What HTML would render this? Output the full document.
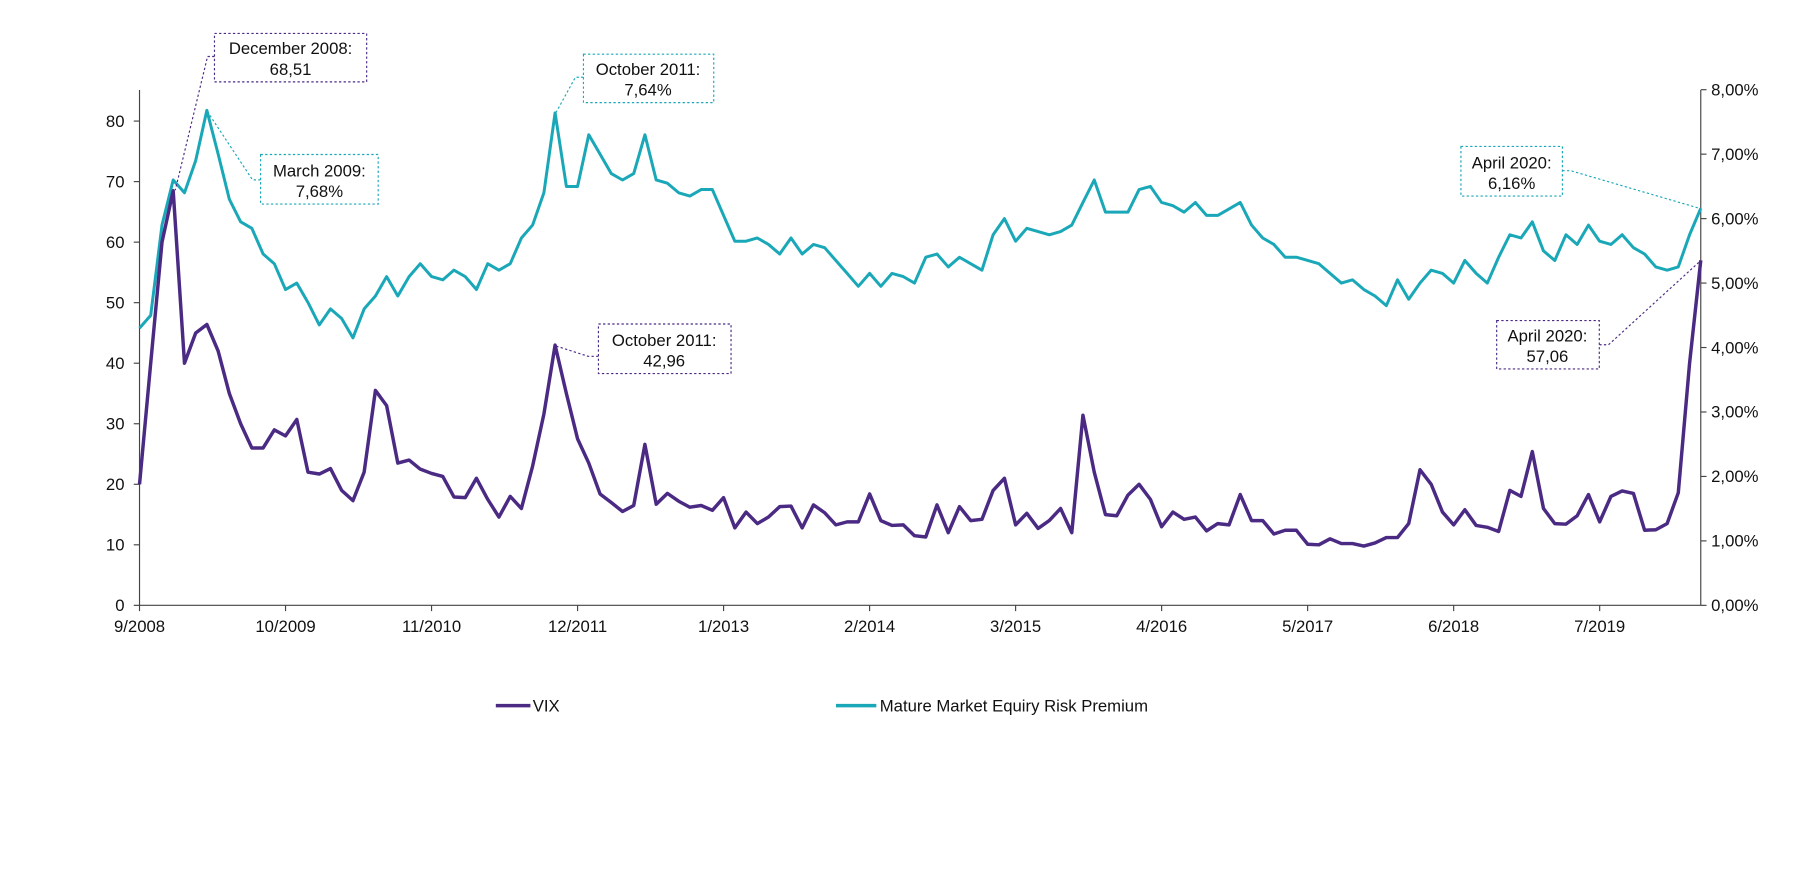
<!DOCTYPE html>
<html><head><meta charset="utf-8"><style>
html,body{margin:0;padding:0;background:#fff;}
svg{display:block;}
text{font-family:"Liberation Sans",Arial,sans-serif;fill:#111;}
</style></head><body>
<svg id="s" width="1808" height="889" viewBox="0 0 1568 771" preserveAspectRatio="none" xmlns="http://www.w3.org/2000/svg">
<g stroke="#444" stroke-width="1" fill="none">
<line x1="121" y1="78" x2="121" y2="525"/>
<line x1="1475" y1="78" x2="1475" y2="525"/>
<line x1="121" y1="525" x2="1475" y2="525"/>
</g>
<g id="ticks" stroke="#444" stroke-width="1"></g>
<g id="labels" font-size="14.5"></g>
<polyline id="erp" fill="none" stroke="#1aa8b8" stroke-width="2.6" stroke-linejoin="round"/>
<polyline id="vix" fill="none" stroke="#4b2a84" stroke-width="3" stroke-linejoin="round"/>
<g fill="none" stroke-width="1" stroke-dasharray="2,2">
<polyline points="186,49 180,49 152,165" stroke="#4b2a84"/>
<polyline points="226,156 219,156 180,97" stroke="#1aa8b8"/>
<polyline points="506,67 499,67 482,98" stroke="#1aa8b8"/>
<polyline points="519,309 510,309 482,300" stroke="#4b2a84"/>
<polyline points="1355,148 1362,148 1475,181" stroke="#1aa8b8"/>
<polyline points="1387,299 1395,299 1475,226" stroke="#4b2a84"/>
<rect x="186" y="29" width="132" height="42" fill="#fff" stroke="#4b2a84"/>
<rect x="226" y="134" width="102" height="43" fill="#fff" stroke="#1aa8b8"/>
<rect x="506" y="47" width="113" height="42" fill="#fff" stroke="#1aa8b8"/>
<rect x="519" y="281" width="115" height="43" fill="#fff" stroke="#4b2a84"/>
<rect x="1267" y="127" width="88" height="43" fill="#fff" stroke="#1aa8b8"/>
<rect x="1298" y="278" width="89" height="42" fill="#fff" stroke="#4b2a84"/>
</g>
<g font-size="14.5" text-anchor="middle">
<text x="252" y="47">December 2008:</text><text x="252" y="65">68,51</text>
<text x="277" y="153">March 2009:</text><text x="277" y="171">7,68%</text>
<text x="562" y="65">October 2011:</text><text x="562" y="83">7,64%</text>
<text x="576" y="300">October 2011:</text><text x="576" y="318">42,96</text>
<text x="1311" y="146">April 2020:</text><text x="1311" y="164">6,16%</text>
<text x="1342" y="296">April 2020:</text><text x="1342" y="314">57,06</text>
</g>
<line x1="430" y1="612" x2="460" y2="612" stroke="#4b2a84" stroke-width="3"/>
<text x="462" y="617" font-size="14.5">VIX</text>
<line x1="725" y1="612" x2="760" y2="612" stroke="#1aa8b8" stroke-width="3"/>
<text x="763" y="617" font-size="14.5">Mature Market Equiry Risk Premium</text>
</svg>
<script>
var vix=[20,40,60,68.5,
40,45,46.4,42,35,30,26,26,29,28,30.7,22,
21.7,22.6,19,17.3,22,35.5,33,23.5,24,22.5,21.8,21.3,
17.9,17.8,21,17.5,14.6,18,16,23,31.6,43,35,27.5,
23.5,18.4,17,15.5,16.5,26.6,16.7,18.5,17.2,16.2,16.5,15.7,
17.8,12.8,15.4,13.5,14.6,16.3,16.4,12.8,16.6,15.3,13.3,13.8,
13.8,18.4,14,13.2,13.3,11.5,11.3,16.6,12,16.3,14,14.2,
19,21,13.3,15.2,12.7,14,16,12,31.4,22,15,14.8,
18.2,20,17.5,13,15.4,14.2,14.6,12.3,13.5,13.3,18.3,14,
14,11.8,12.4,12.4,10.1,10,11,10.2,10.2,9.8,10.3,11.2,
11.2,13.5,22.4,20,15.4,13.3,15.8,13.2,12.9,12.2,19,18,
25.4,16,13.5,13.4,14.8,18.3,13.8,18,18.9,18.5,12.4,12.5,
13.5,18.6,40,57];
var erp=[4.3,4.5,5.9,6.6,
6.4,6.9,7.68,7.0,6.3,5.95,5.85,5.45,5.3,4.9,5.0,4.7,
4.35,4.6,4.45,4.15,4.6,4.8,5.1,4.8,5.1,5.3,5.1,5.05,
5.2,5.1,4.9,5.3,5.2,5.3,5.7,5.9,6.4,7.64,6.5,6.5,
7.3,7.0,6.7,6.6,6.7,7.3,6.6,6.55,6.4,6.35,6.45,6.45,
6.05,5.65,5.65,5.7,5.6,5.45,5.7,5.45,5.6,5.55,5.35,5.15,
4.95,5.15,4.95,5.15,5.1,5.0,5.4,5.45,5.25,5.4,5.3,5.2,
5.75,6.0,5.65,5.85,5.8,5.75,5.8,5.9,6.25,6.6,6.1,6.1,
6.1,6.45,6.5,6.25,6.2,6.1,6.25,6.05,6.05,6.15,6.25,5.9,
5.7,5.6,5.4,5.4,5.35,5.3,5.15,5.0,5.05,4.9,4.8,4.65,
5.05,4.75,5.0,5.2,5.15,5.0,5.35,5.15,5.0,5.4,5.75,5.7,
5.95,5.5,5.35,5.75,5.6,5.9,5.65,5.6,5.75,5.55,5.45,5.25,
5.2,5.25,5.75,6.16];
var dx=(1475-121)/139;
function X(i){return 121+i*dx;}
document.getElementById('vix').setAttribute('points',vix.map(function(v,i){return X(i).toFixed(1)+','+(525-v*5.25).toFixed(1)}).join(' '));
document.getElementById('erp').setAttribute('points',erp.map(function(v,i){return X(i).toFixed(1)+','+(525-v*55.9).toFixed(1)}).join(' '));
var t='',l='';
for(var k=0;k<=8;k++){var y=525-k*52.5;t+='<line x1="116" y1="'+y+'" x2="121" y2="'+y+'"/>';l+='<text x="108" y="'+(y+5)+'" text-anchor="end">'+(k*10)+'</text>';}
for(var k=0;k<=8;k++){var y=525-k*55.9;t+='<line x1="1475" y1="'+y+'" x2="1480" y2="'+y+'"/>';l+='<text x="1484" y="'+(y+5)+'">'+k+',00%</text>';}
var xl=['9/2008','10/2009','11/2010','12/2011','1/2013','2/2014','3/2015','4/2016','5/2017','6/2018','7/2019'];
for(var k=0;k<xl.length;k++){var x=X(k*13);t+='<line x1="'+x+'" y1="525" x2="'+x+'" y2="530"/>';l+='<text x="'+x+'" y="548" text-anchor="middle">'+xl[k]+'</text>';}
document.getElementById('ticks').innerHTML=t;
document.getElementById('labels').innerHTML=l;
</script>
</body></html>
